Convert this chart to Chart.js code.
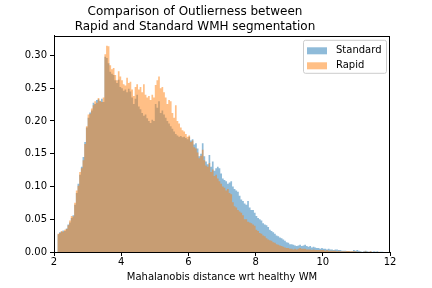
<!DOCTYPE html>
<html>
<head>
<meta charset="utf-8">
<script src="https://cdn.jsdelivr.net/npm/chart.js@4"></script>
<style>
  html, body { margin: 0; padding: 0; background: #fff; }
  #wrap { width: 432px; height: 288px; }
</style>
</head>
<body>
<div id="wrap"><canvas id="chart" width="432" height="288"></canvas></div>
<script>
// histogram bins: left edge of first bin and bin width
var binStart = 2.1;
var binWidth = 0.05;

// bin heights (density)
var standard = [
  0.027, 0.030, 0.031, 0.033, 0.032, 0.036, 0.042, 0.045,
  0.052, 0.056, 0.072, 0.090, 0.104, 0.118, 0.130, 0.145,
  0.168, 0.190, 0.205, 0.213, 0.216, 0.228, 0.226, 0.232, 0.233, 0.230, 0.234, 0.229,
  0.298, 0.296, 0.288, 0.275, 0.272, 0.270, 0.262, 0.258, 0.263, 0.252,
  0.250, 0.246, 0.248, 0.244, 0.249, 0.245, 0.236, 0.226, 0.234, 0.240,
  0.222, 0.218, 0.212, 0.208, 0.210, 0.204, 0.200, 0.197, 0.202, 0.200,
  0.226, 0.220, 0.230, 0.212, 0.216, 0.210, 0.205, 0.200, 0.196, 0.192,
  0.188, 0.184, 0.180, 0.178, 0.176, 0.177, 0.175, 0.176, 0.174, 0.172,
  0.176, 0.170, 0.172, 0.164, 0.166, 0.158, 0.146, 0.150, 0.166, 0.146,
  0.138, 0.134, 0.148, 0.130, 0.138, 0.124, 0.128, 0.130, 0.128, 0.120,
  0.112, 0.110, 0.108, 0.104, 0.106, 0.108, 0.100, 0.096, 0.094, 0.092,
  0.086, 0.080, 0.078, 0.074, 0.072, 0.078, 0.068, 0.064, 0.064, 0.060,
  0.055, 0.052, 0.050, 0.048, 0.044, 0.042, 0.041, 0.038, 0.034, 0.032,
  0.030, 0.028, 0.025, 0.024, 0.022, 0.021, 0.019, 0.017, 0.015, 0.014,
  0.012, 0.012, 0.011, 0.010, 0.009, 0.010, 0.011, 0.009, 0.010, 0.011,
  0.009, 0.008, 0.009, 0.007, 0.008, 0.007, 0.006, 0.006, 0.005, 0.006,
  0.005, 0.005, 0.004, 0.005, 0.004, 0.004, 0.003, 0.004, 0.004, 0.003,
  0.003, 0.002, 0.002, 0.002, 0.0015, 0.0015, 0.001, 0.001, 0.003, 0.002,
  0.003, 0.002, 0.001, 0.0005, 0.001, 0.002, 0.001, 0.0005, 0.001, 0.0005,
  0.001, 0.0005, 0.001, 0, 0.0005, 0.0005, 0, 0, 0, 0
];
var rapid = [
  0.028, 0.029, 0.032, 0.031, 0.034, 0.035, 0.041, 0.048,
  0.055, 0.054, 0.075, 0.094, 0.101, 0.122, 0.128, 0.140,
  0.165, 0.192, 0.210, 0.211, 0.219, 0.224, 0.230, 0.228, 0.235, 0.231, 0.229, 0.236,
  0.302, 0.315, 0.314, 0.285, 0.279, 0.281, 0.270, 0.262, 0.276, 0.268,
  0.262, 0.256, 0.254, 0.266, 0.258, 0.260, 0.248, 0.238, 0.252, 0.256,
  0.248, 0.252, 0.244, 0.256, 0.240, 0.236, 0.238, 0.232, 0.240, 0.236,
  0.255, 0.262, 0.268, 0.250, 0.252, 0.244, 0.236, 0.226, 0.232, 0.230,
  0.212, 0.205, 0.224, 0.200, 0.196, 0.190, 0.186, 0.184, 0.180, 0.176,
  0.178, 0.168, 0.170, 0.160, 0.158, 0.152, 0.143, 0.147, 0.156, 0.140,
  0.132, 0.130, 0.136, 0.122, 0.126, 0.116, 0.118, 0.112, 0.108, 0.104,
  0.100, 0.098, 0.094, 0.096, 0.090, 0.088, 0.076, 0.070, 0.068, 0.064,
  0.062, 0.060, 0.056, 0.050, 0.050, 0.046, 0.045, 0.044, 0.042, 0.040,
  0.034, 0.032, 0.029, 0.028, 0.025, 0.024, 0.021, 0.019, 0.018, 0.017,
  0.015, 0.014, 0.012, 0.011, 0.010, 0.009, 0.008, 0.007, 0.006, 0.006,
  0.005, 0.005, 0.004, 0.005, 0.004, 0.005, 0.006, 0.005, 0.005, 0.005,
  0.004, 0.004, 0.004, 0.003, 0.004, 0.003, 0.003, 0.003, 0.003, 0.003,
  0.003, 0.002, 0.003, 0.002, 0.002, 0.002, 0.002, 0.002, 0.001, 0.002,
  0.001, 0.001, 0.001, 0.001, 0.0015, 0.0015, 0.001, 0.001, 0.001, 0.001,
  0.0005, 0.0005, 0.0005, 0, 0.0005, 0.001, 0, 0.0005, 0.001, 0,
  0, 0.0005, 0, 0.0005, 0, 0, 0, 0, 0, 0
];

var titleLines = ['Comparison of Outlierness between', 'Rapid and Standard WMH segmentation'];
var xLabel = 'Mahalanobis distance wrt healthy WM';
var yTicks = [0, 0.05, 0.10, 0.15, 0.20, 0.25, 0.30];

var font = 'DejaVu Sans';

// one point per bin left edge, plus the closing right edge at zero,
// drawn as a stepped filled outline so neighbouring bins have no seams
function toSteps(values) {
  var pts = values.map(function (v, i) {
    return { x: binStart + binWidth * i, y: v };
  });
  pts.push({ x: binStart + binWidth * values.length, y: 0 });
  return pts;
}

// frame on all four sides + legend box in the top right corner
var framePlugin = {
  id: 'frame',
  afterDraw: function (chart) {
    var ctx = chart.ctx, a = chart.chartArea;
    ctx.save();
    ctx.strokeStyle = '#000';
    ctx.lineWidth = 1;
    ctx.strokeRect(Math.round(a.left) + 0.5, Math.round(a.top) + 0.5,
                   Math.round(a.right - a.left) - 1, Math.round(a.bottom - a.top));

    var bx = a.right - 87, by = a.top + 4, bw = 83, bh = 33;
    ctx.fillStyle = 'rgba(255,255,255,0.8)';
    ctx.strokeStyle = '#cccccc';
    ctx.beginPath();
    ctx.roundRect(bx + 0.5, by + 0.5, bw, bh, 2);
    ctx.fill();
    ctx.stroke();

    ctx.font = '10px "' + font + '"';
    ctx.textBaseline = 'middle';
    ctx.textAlign = 'left';
    chart.data.datasets.forEach(function (ds, i) {
      var y = by + 11 + i * 15;
      ctx.fillStyle = ds.backgroundColor;
      ctx.fillRect(bx + 4, y - 3.5, 20, 7);
      ctx.fillStyle = '#000';
      ctx.fillText(ds.label, bx + 33, y);
    });
    ctx.restore();
  }
};

var ctx = document.getElementById('chart').getContext('2d');
var myChart = new Chart(ctx, {
  type: 'line',
  data: {
    datasets: [
      {
        label: 'Standard',
        data: toSteps(standard),
        backgroundColor: 'rgba(31,119,180,0.5)',
        order: 1
      },
      {
        label: 'Rapid',
        data: toSteps(rapid),
        backgroundColor: 'rgba(255,127,14,0.5)',
        order: 0
      }
    ]
  },
  options: {
    responsive: false,
    animation: false,
    elements: {
      line: { stepped: 'before', borderWidth: 0, fill: 'origin', tension: 0 },
      point: { radius: 0 }
    },
    layout: { padding: { left: 0, right: 42, top: 0, bottom: 0 } },
    plugins: {
      legend: { display: false },
      tooltip: { enabled: false },
      title: {
        display: true,
        text: titleLines,
        color: '#000',
        font: { family: font, size: 12, weight: 'normal', lineHeight: 1.2 },
        padding: { top: 5, bottom: 2 }
      }
    },
    scales: {
      x: {
        type: 'linear',
        min: 2,
        max: 12,
        grid: { display: true, drawOnChartArea: false, tickLength: 4, color: '#000' },
        border: { color: '#000' },
        ticks: {
          stepSize: 2,
          color: '#000',
          padding: 0,
          font: { family: font, size: 10 },
          maxRotation: 0
        },
        title: {
          display: true,
          text: xLabel,
          color: '#000',
          font: { family: font, size: 10 },
          padding: { top: 5, bottom: 5 }
        },
        afterFit: function (scale) { scale.height = 36; }
      },
      y: {
        min: 0,
        max: 0.33,
        grid: { display: true, drawOnChartArea: false, tickLength: 4, color: '#000' },
        border: { color: '#000' },
        afterBuildTicks: function (scale) {
          scale.ticks = yTicks.map(function (v) { return { value: v }; });
        },
        ticks: {
          color: '#000',
          padding: 3,
          font: { family: font, size: 10 },
          callback: function (v) { return v.toFixed(2); }
        },
        afterFit: function (scale) { scale.width = 54; }
      }
    }
  },
  plugins: [framePlugin]
});
</script>
</body>
</html>
